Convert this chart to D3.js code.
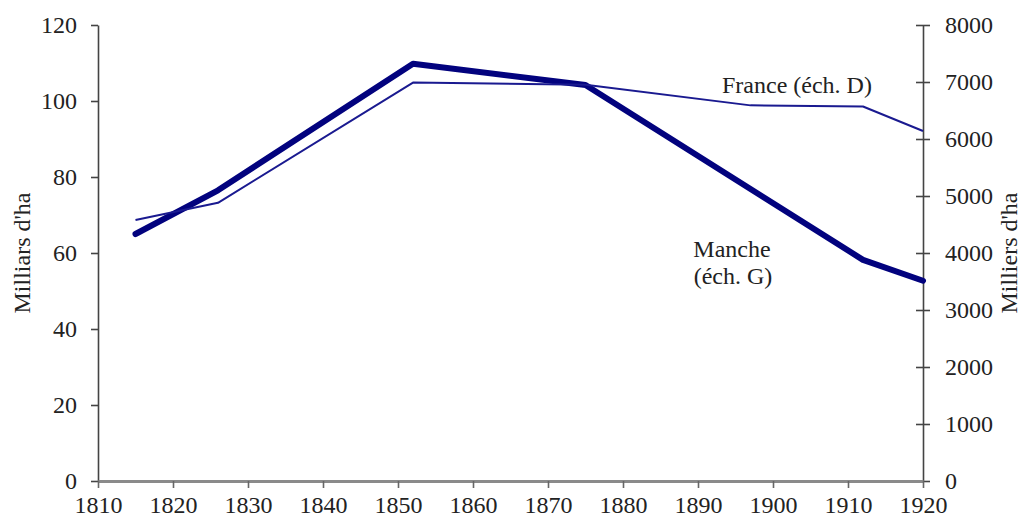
<!DOCTYPE html>
<html>
<head>
<meta charset="utf-8">
<script src="https://cdn.jsdelivr.net/npm/d3@7"></script>
<style>
  html, body { margin: 0; padding: 0; background: #fff; }
  svg { display: block; }
  text { font-family: "Liberation Serif", "Times New Roman", serif; fill: #222; }
</style>
</head>
<body>
<svg id="chart" width="1024" height="519"></svg>
<script>
// ---- data ----
const mancheYears  = [1815, 1826, 1852, 1875, 1912, 1920];
const mancheValues = [65, 76.5, 109.8, 104.2, 58.2, 52.7];
const franceYears  = [1815, 1826, 1852, 1875, 1897, 1912, 1920];
const franceValues = [4580, 4880, 6990, 6950, 6590, 6570, 6140];
const xTicks  = [1810, 1820, 1830, 1840, 1850, 1860, 1870, 1880, 1890, 1900, 1910, 1920];
const yLTicks = [0, 20, 40, 60, 80, 100, 120];
const yRTicks = [0, 1000, 2000, 3000, 4000, 5000, 6000, 7000, 8000];
const leftLabel = "Milliars d'ha";
const rightLabel = "Milliers d'ha";
const franceLabel = "France (éch. D)";
const mancheLabel = ["Manche", "(éch. G)"];

// ---- layout ----
const svg = d3.select("#chart");
const L = 98, R = 923, T = 25, B = 481;
const x  = d3.scaleLinear().domain([1810, 1920]).range([L, R]);
const yL = d3.scaleLinear().domain([0, 120]).range([B, T]);
const yR = d3.scaleLinear().domain([0, 8000]).range([B, T]);
const FS = "24px";

// left axis
const gL = svg.append("g").attr("transform", `translate(${L},0)`)
  .call(d3.axisLeft(yL).tickValues(yLTicks).tickSize(7).tickSizeOuter(0).tickPadding(14));
// right axis
const gR = svg.append("g").attr("transform", `translate(${R},0)`)
  .call(d3.axisRight(yR).tickValues(yRTicks).tickSize(7).tickSizeOuter(0).tickPadding(15).tickFormat(d3.format("d")));
gR.selectAll(".tick line").attr("x1", -7).attr("x2", 7);
// bottom axis
const gB = svg.append("g").attr("transform", `translate(0,${B})`)
  .call(d3.axisBottom(x).tickValues(xTicks).tickSize(7).tickSizeOuter(0).tickPadding(8).tickFormat(d3.format("d")));

[gL, gR].forEach(g => {
  g.select(".domain").attr("stroke", "#444").attr("stroke-width", 1.6);
  g.selectAll(".tick line").attr("stroke", "#444").attr("stroke-width", 1.6);
});
gB.select(".domain").attr("stroke", "#8a8a8a").attr("stroke-width", 3);
gB.selectAll(".tick line").attr("stroke", "#666").attr("stroke-width", 1.6);
[gL, gR, gB].forEach(g => {
  g.selectAll(".tick text").style("font-size", FS).attr("fill", "#222")
   .style("font-family", '"Liberation Serif", "Times New Roman", serif');
});

// lines
const lineM = d3.line().x(d => x(d[0])).y(d => yL(d[1]));
const lineF = d3.line().x(d => x(d[0])).y(d => yR(d[1]));
svg.append("path")
  .datum(mancheYears.map((yr, i) => [yr, mancheValues[i]]))
  .attr("d", lineM).attr("fill", "none").attr("stroke", "#02027e")
  .attr("stroke-width", 6).attr("stroke-linejoin", "round").attr("stroke-linecap", "round");
svg.append("path")
  .datum(franceYears.map((yr, i) => [yr, franceValues[i]]))
  .attr("d", lineF).attr("fill", "none").attr("stroke", "#1a1a90")
  .attr("stroke-width", 2).attr("stroke-linejoin", "round");

// axis titles
svg.append("text").attr("transform", `translate(30,${(T + B) / 2}) rotate(-90)`)
  .attr("text-anchor", "middle").style("font-size", FS).text(leftLabel);
svg.append("text").attr("transform", `translate(1017,${(T + B) / 2}) rotate(-90)`)
  .attr("text-anchor", "middle").style("font-size", FS).text(rightLabel);

// annotations
svg.append("text").attr("x", 722).attr("y", 93).style("font-size", FS).text(franceLabel);
svg.append("text").attr("x", 732).attr("y", 257).attr("text-anchor", "middle").style("font-size", FS).text(mancheLabel[0]);
svg.append("text").attr("x", 733).attr("y", 284).attr("text-anchor", "middle").style("font-size", FS).text(mancheLabel[1]);
</script>
</body>
</html>
